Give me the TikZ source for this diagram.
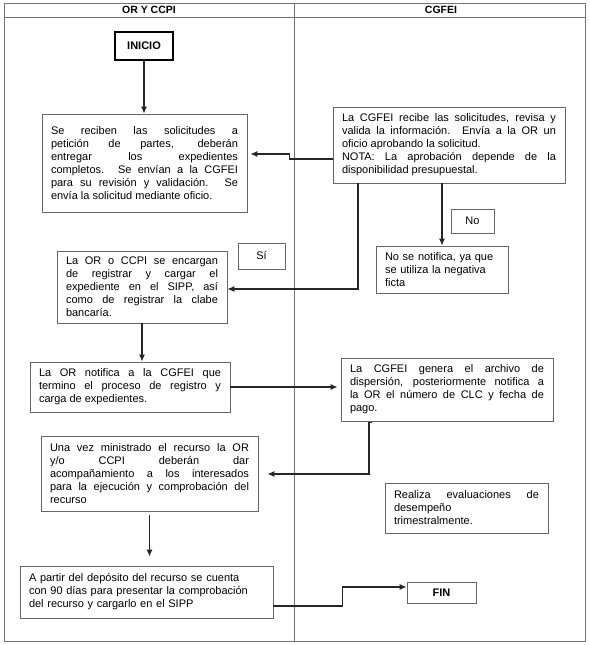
\documentclass[tikz,border=0pt]{standalone}
\usepackage{fontspec}
\setmainfont{Liberation Sans}
\usetikzlibrary{positioning,arrows,arrows.meta,calc}
\setlength{\parindent}{0pt}
\tikzset{
  caja/.style={draw=black!60, line width=0.7pt, fill=white, align=justify,
    inner xsep=9pt, inner ysep=4pt, font=\fontsize{11}{13}\selectfont},
  etiqueta/.style={draw=black!60, line width=0.7pt, fill=white,
    font=\fontsize{11}{13}\selectfont},
  terminal/.style={draw, line width=1.6pt, fill=white,
    font=\bfseries\fontsize{11}{13}\selectfont},
  flecha/.style={-{Latex[length=7pt,width=6pt]}, line width=1.3pt, draw=black!85},
  marco/.style={draw=black!55, line width=0.8pt},
}

\begin{document}
\begin{tikzpicture}[x=1pt,y=-1pt]
\useasboundingbox (0,0) rectangle (589,645);
\draw[marco] (4,3) rectangle (585,641);
\draw[marco] (4,17) -- (585,17);
\draw[marco] (294,3) -- (294,641);
\node[font=\bfseries\fontsize{10.5}{12}\selectfont] (colOR) at (149,10) {OR Y CCPI};
\node[font=\bfseries\fontsize{10.5}{12}\selectfont] (colCG) at (441,10) {CGFEI};

\node[terminal, minimum width=58pt, minimum height=28pt] (inicio) at (144,46) {INICIO};
\node[caja, text width=187pt, minimum height=98pt] (recep) at (144.5,163)
  {Se reciben las solicitudes a\linebreak petición de partes, deberán\linebreak entregar los expedientes\linebreak
   completos. Se envían a la CGFEI\linebreak para su revisión y validación. Se\linebreak envía la solicitud mediante oficio.};
\node[caja, text width=214pt, minimum height=76pt] (valida) at (449,145)
  {La CGFEI recibe las solicitudes, revisa y\linebreak valida la información. Envía a la OR un\linebreak oficio aprobando la solicitud.\\
   NOTA: La aprobación depende de la\linebreak disponibilidad presupuestal.};
\node[etiqueta, minimum width=43pt, minimum height=24pt] (no) at (472.5,221) {No};
\node[caja, align=left, text width=114pt, minimum height=47pt] (nonotif) at (442,269.5)
  {No se notifica, ya que\\se utiliza la negativa\\ficta};
\node[etiqueta, minimum width=47pt, minimum height=26pt] (si) at (261.5,256) {Sí};
\node[caja, text width=152pt, minimum height=72pt] (orcc) at (142,287)
  {La OR o CCPI se encargan\linebreak de registrar y cargar el\linebreak expediente en el SIPP, así\linebreak
   como de registrar la clabe\linebreak bancaría.};
\node[caja, text width=182pt, minimum height=50pt] (notif) at (130,387)
  {La OR notifica a la CGFEI que\linebreak termino el proceso de registro y\linebreak carga de expedientes.};
\node[caja, text width=194pt, minimum height=63pt] (genera) at (447,389.5)
  {La CGFEI genera el archivo de\linebreak dispersión, posteriormente notifica a\linebreak la OR el número de CLC y fecha de\linebreak pago.};
\node[caja, text width=199pt, minimum height=75pt] (ministra) at (149.5,473.5)
  {Una vez ministrado el recurso la OR\linebreak y/o CCPI deberán dar\linebreak acompañamiento a los interesados\linebreak
   para la ejecución y comprobación del\linebreak recurso};
\node[caja, text width=145pt, minimum height=50pt] (realiza) at (466.5,508)
  {Realiza evaluaciones de\linebreak desempeño\\trimestralmente.};
\node[caja, align=left, text width=235pt, minimum height=52pt] (partir) at (146.5,592)
  {A partir del depósito del recurso se cuenta\\con 90 días para presentar la comprobación\\del recurso y cargarlo en el SIPP};
\node[terminal, line width=0.7pt, draw=black!60, minimum width=69pt, minimum height=21pt] (fin) at (441.5,592.5) {FIN};

\draw[flecha] (inicio.south) -- (inicio.south |- recep.north);
\draw[flecha, shorten >=3pt] ([yshift=-14pt]valida.west) -- ++(-43,0) |- ([yshift=9pt]recep.east);
\draw[flecha] ([xshift=-91pt]valida.south) |- ([yshift=-2pt]orcc.east);
\draw[flecha] (valida.south -| nonotif.north) -- (nonotif.north);
\draw[flecha] (orcc.south) -- (orcc.south |- notif.north);
\draw[flecha, shorten >=3pt] (notif.east) -- (notif.east -| genera.west);
\draw[flecha, shorten >=9pt] ([xshift=-75pt,yshift=-1pt]genera.south) -- ++(-3,0) |- ([yshift=-0.5pt]ministra.east);
\draw[flecha, shorten <=4pt, shorten >=9pt] (ministra.south) -- (ministra.south |- partir.north);
\draw[flecha] ([yshift=-14pt]partir.east) -- ++(69,0) |- ([yshift=5.5pt]fin.west);
\end{tikzpicture}
\end{document}
